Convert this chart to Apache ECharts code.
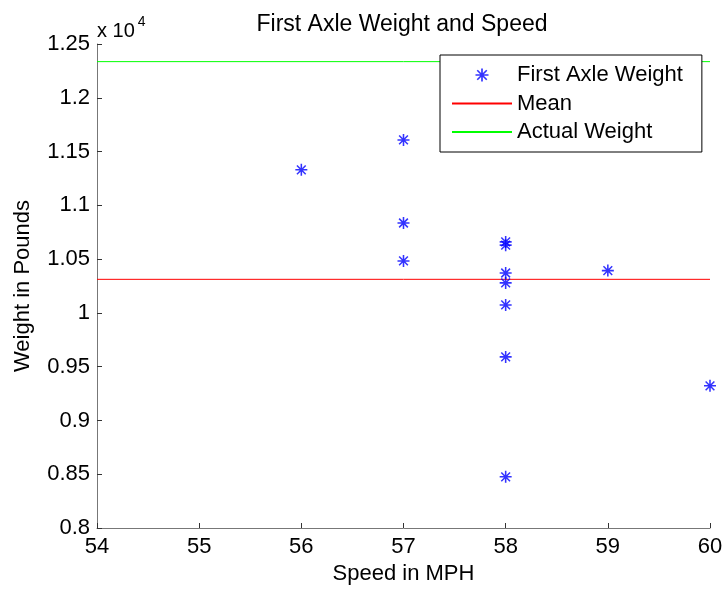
<!DOCTYPE html>
<html>
<head>
<meta charset="utf-8">
<script src="https://cdn.jsdelivr.net/npm/echarts@6/dist/echarts.min.js"></script>
<style>html,body{margin:0;padding:0;background:#fff}#c{width:723px;height:590px}</style>
</head>
<body>
<div id="c"></div>
<script>
var speeds  = [56, 57, 57, 57, 58, 58, 58, 58, 58, 58, 58, 59, 60];
var weights = [11330, 11608, 10836, 10483, 10660, 10630, 10371, 10279, 10074, 9591, 8476, 10393, 9322];
var meanWeight = 10312;
var actualWeight = 12336;
var xRange = [54, 60];
var xTicks = [54, 55, 56, 57, 58, 59, 60];
var yTicks = [0.8, 0.85, 0.9, 0.95, 1, 1.05, 1.1, 1.15, 1.2, 1.25];

var STAR = 'path://M0 8.7L20 8.7L20 11.3L0 11.3Z M8.7 0L11.3 0L11.3 20L8.7 20Z M1.8 3.6L3.6 1.8L18.2 16.4L16.4 18.2Z M16.4 1.8L18.2 3.6L3.6 18.2L1.8 16.4Z';
var FONT = 'Liberation Sans';
var FS = 22;

var chart = echarts.init(document.getElementById('c'), null, {renderer: 'canvas'});
chart.setOption({
  backgroundColor: '#fff',
  animation: false,
  textStyle: {fontFamily: FONT},
  title: {
    text: 'First Axle Weight and Speed',
    left: 397, top: 8, textAlign: 'center',
    textStyle: {fontFamily: FONT, fontSize: 23, fontWeight: 'normal', color: '#000'}
  },
  grid: {left: 97, right: 13, top: 44, bottom: 62, containLabel: false, outerBoundsMode: 'none'},
  xAxis: {
    type: 'value', min: xRange[0], max: xRange[1], interval: 1,
    name: 'Speed in MPH', nameLocation: 'middle', nameGap: 33,
    nameTextStyle: {fontFamily: FONT, fontSize: FS, color: '#000'},
    axisLine: {lineStyle: {color: '#777', width: 1}},
    axisTick: {inside: true, length: 5, lineStyle: {color: '#333'}},
    axisLabel: {fontFamily: FONT, fontSize: FS, color: '#000', margin: 8,
      formatter: function (v) { return xTicks.indexOf(v) >= 0 ? String(v) : ''; }},
    splitLine: {show: false}
  },
  yAxis: {
    type: 'value', min: 8000, max: 12500, interval: 500,
    name: 'Weight in Pounds', nameLocation: 'middle', nameGap: 63, nameRotate: 90,
    nameTextStyle: {fontFamily: FONT, fontSize: FS, color: '#000'},
    axisLine: {show: true, lineStyle: {color: '#777', width: 1}},
    axisTick: {show: true, inside: true, length: 5, lineStyle: {color: '#333'}},
    axisLabel: {fontFamily: FONT, fontSize: FS, color: '#000', margin: 7,
      formatter: function (v) { var t = parseFloat((v / 10000).toFixed(2)); return yTicks.indexOf(t) >= 0 ? String(t) : ''; }},
    splitLine: {show: false}
  },
  legend: {
    orient: 'vertical', left: 440, top: 55,
    padding: [9, 19, 9, 11],
    itemWidth: 60, itemHeight: 13, itemGap: 6.5,
    backgroundColor: '#fff', borderColor: '#000', borderWidth: 1, borderRadius: 0,
    textStyle: {fontFamily: FONT, fontSize: FS, color: '#000'},
    data: [
      {name: 'First Axle Weight', icon: STAR},
      {name: 'Mean', itemStyle: {opacity: 0}},
      {name: 'Actual Weight', itemStyle: {opacity: 0}}
    ]
  },
  graphic: [{
    type: 'text', left: 97, top: 15,
    style: {
      text: '{a|x 10}{b|4}',
      rich: {
        a: {fontFamily: FONT, fontSize: 20, fill: '#000', padding: [8, 0, 0, 0]},
        b: {fontFamily: FONT, fontSize: 14, fill: '#000', padding: [0, 0, 10, 3]}
      }
    }
  }],
  series: [
    {
      name: 'First Axle Weight', type: 'scatter',
      symbol: STAR, symbolSize: 12, symbolKeepAspect: true,
      itemStyle: {color: '#0000ff'},
      data: speeds.map(function (s, i) { return [s, weights[i]]; }),
      z: 3
    },
    {
      name: 'Mean', type: 'line', symbol: 'none', showSymbol: false,
      lineStyle: {color: '#ff0000', width: 1}, itemStyle: {color: '#ff0000'},
      data: [[xRange[0], meanWeight], [xRange[1], meanWeight]]
    },
    {
      name: 'Actual Weight', type: 'line', symbol: 'none', showSymbol: false,
      lineStyle: {color: '#00ff00', width: 1}, itemStyle: {color: '#00ff00'},
      data: [[xRange[0], actualWeight], [xRange[1], actualWeight]]
    }
  ]
});
</script>
</body>
</html>
